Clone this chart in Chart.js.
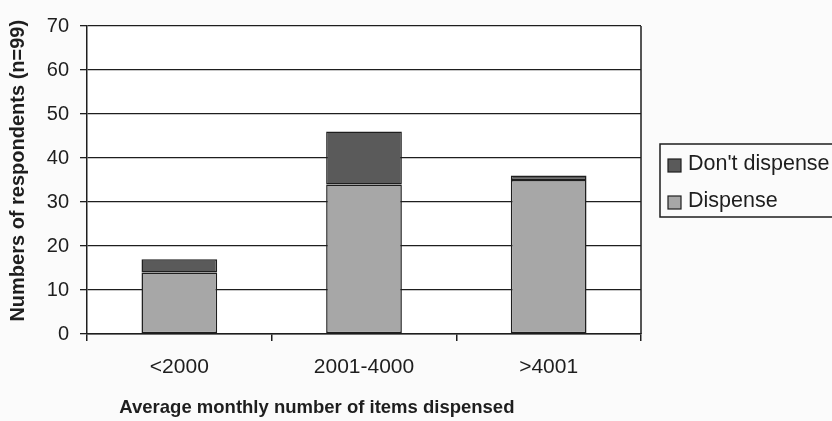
<!DOCTYPE html>
<html>
<head>
<meta charset="utf-8">
<script src="https://cdn.jsdelivr.net/npm/chart.js@4.4.1/dist/chart.umd.min.js"></script>
<style>
  html, body { margin: 0; padding: 0; background: #ffffff; }
  #wrap { width: 832px; height: 421px; }
</style>
</head>
<body>
<div id="wrap"><canvas id="c" width="832" height="421"></canvas></div>
<script>
// Respondents by average monthly number of items dispensed
const categories = ['<2000', '2001-4000', '>4001'];
const dispense = [14, 34, 35];
const dontDispense = [3, 12, 1];
const yTicks = [0, 10, 20, 30, 40, 50, 60, 70];
const xTitle = 'Average monthly number of items dispensed';
const yTitle = 'Numbers of respondents (n=99)';

const FONT = "'Liberation Sans', Arial, sans-serif";
const INK = '#1e1e1e';

// Light page tint with a white plot area and a frame on the right edge
const framePlugin = {
  id: 'frame',
  beforeDraw(chart) {
    const { ctx, chartArea: a, width, height } = chart;
    ctx.save();
    ctx.fillStyle = '#fbfbfb';
    ctx.fillRect(0, 0, width, height);
    ctx.fillStyle = '#ffffff';
    ctx.fillRect(a.left, a.top, a.right - a.left, a.bottom - a.top);
    ctx.restore();
  },
  afterDraw(chart) {
    const { ctx, chartArea: a } = chart;
    ctx.save();
    ctx.strokeStyle = INK;
    ctx.lineWidth = 1.5;
    ctx.beginPath();
    ctx.moveTo(a.right, a.top);
    ctx.lineTo(a.right, a.bottom);
    ctx.stroke();
    ctx.restore();
  }
};

// Axis titles, placed a little off-centre from the plot area
const axisTitlePlugin = {
  id: 'axisTitles',
  afterDraw(chart) {
    const { ctx, chartArea: a } = chart;
    ctx.save();
    ctx.fillStyle = INK;
    ctx.textAlign = 'center';
    ctx.textBaseline = 'middle';
    ctx.font = 'bold 18.5px ' + FONT;
    ctx.fillText(xTitle, a.left + (a.right - a.left) * 0.415, a.bottom + 74);
    ctx.font = 'bold 20px ' + FONT;
    ctx.translate(18, a.top + (a.bottom - a.top) * 0.47);
    ctx.rotate(-Math.PI / 2);
    ctx.fillText(yTitle, 0, 0);
    ctx.restore();
  }
};

// Boxed legend to the right of the plot, top entry is the upper stack segment
const boxLegendPlugin = {
  id: 'boxLegend',
  afterDraw(chart) {
    const { ctx, chartArea: a } = chart;
    const sets = chart.data.datasets.slice().reverse();
    const x0 = a.right + 19, y0 = 144, h = 73;
    ctx.save();
    ctx.strokeStyle = INK;
    ctx.lineWidth = 1.5;
    ctx.strokeRect(x0, y0, 200, h);
    ctx.font = '21.5px ' + FONT;
    ctx.textBaseline = 'middle';
    ctx.textAlign = 'left';
    sets.forEach((ds, i) => {
      const cy = y0 + 20 + i * 37;
      ctx.fillStyle = ds.backgroundColor;
      ctx.fillRect(x0 + 8, cy - 5, 13, 13);
      ctx.strokeStyle = INK;
      ctx.lineWidth = 1.2;
      ctx.strokeRect(x0 + 8, cy - 5, 13, 13);
      ctx.fillStyle = INK;
      ctx.fillText(ds.label, x0 + 28, cy);
    });
    ctx.restore();
  }
};

new Chart(document.getElementById('c'), {
  type: 'bar',
  data: {
    labels: categories,
    datasets: [
      {
        label: 'Dispense',
        data: dispense,
        backgroundColor: '#a7a7a7',
        borderColor: INK,
        borderWidth: 1.5,
        borderSkipped: false
      },
      {
        label: "Don't dispense",
        data: dontDispense,
        backgroundColor: '#5a5a5a',
        borderColor: INK,
        borderWidth: 1.5,
        borderSkipped: false
      }
    ]
  },
  options: {
    responsive: false,
    animation: false,
    devicePixelRatio: 1,
    layout: { padding: { top: 26, right: 191, left: 0, bottom: 0 } },
    datasets: { bar: { categoryPercentage: 1, barPercentage: 0.41 } },
    plugins: {
      legend: { display: false },
      tooltip: { enabled: false }
    },
    scales: {
      x: {
        stacked: true,
        afterFit(s) { s.height = 87; },
        grid: {
          offset: true,
          drawOnChartArea: false,
          drawTicks: true,
          tickLength: 7,
          color: INK,
          lineWidth: 1.5
        },
        border: { display: true, color: INK, width: 1.5 },
        ticks: {
          color: INK,
          padding: 14,
          font: { family: FONT, size: 21 }
        }
      },
      y: {
        stacked: true,
        min: yTicks[0],
        max: yTicks[yTicks.length - 1],
        afterFit(s) { s.width = 87; },
        afterBuildTicks(s) { s.ticks = yTicks.map(v => ({ value: v })); },
        grid: {
          color: INK,
          lineWidth: 1.3,
          drawTicks: true,
          tickLength: 7
        },
        border: { display: true, color: INK, width: 1.5 },
        ticks: {
          color: INK,
          padding: 11,
          font: { family: FONT, size: 20 }
        }
      }
    }
  },
  plugins: [framePlugin, axisTitlePlugin, boxLegendPlugin]
});
</script>
</body>
</html>
